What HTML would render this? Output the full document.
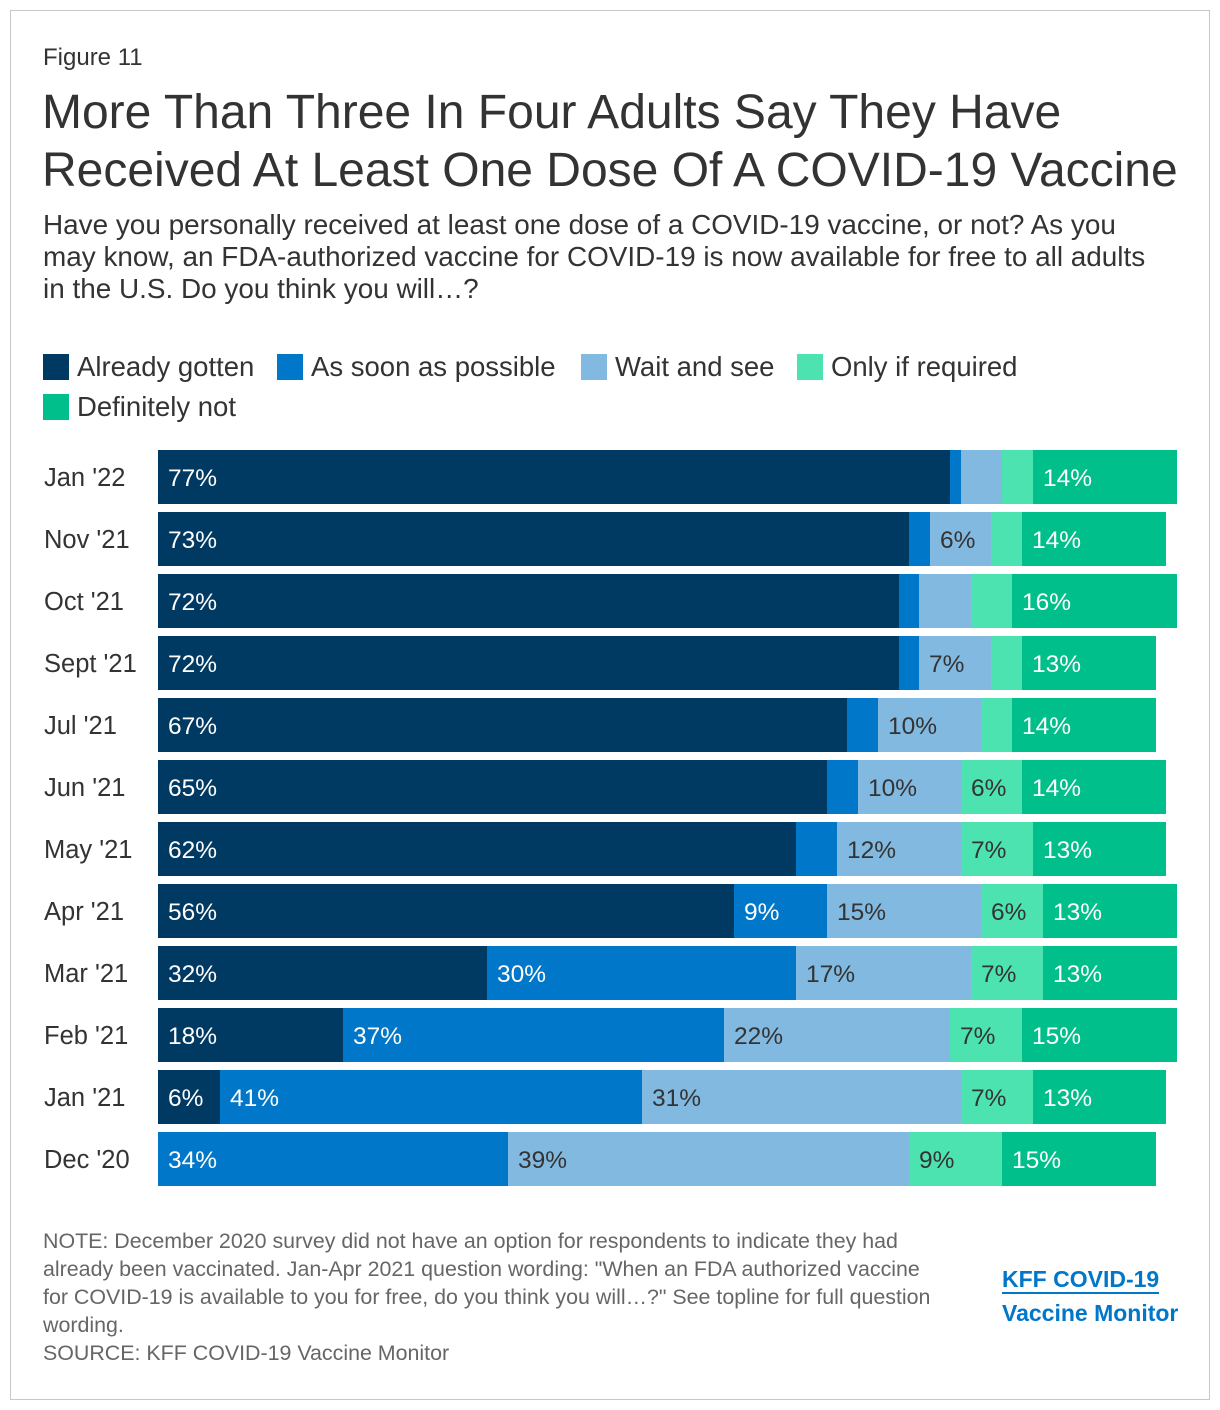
<!DOCTYPE html>
<html><head><meta charset="utf-8"><style>
body{margin:0;background:#fff;font-family:"Liberation Sans",sans-serif;}
#frame{position:absolute;left:10px;top:10px;width:1198px;height:1388px;border:1px solid #c8c8c8;}
.t{position:absolute;color:#333;white-space:nowrap;}
.leg{position:absolute;font-size:27.5px;color:#333;display:flex;align-items:center;}
.sw{display:inline-block;width:26px;height:26px;margin-right:8px;}
</style></head><body>
<div id="frame"></div>
<div class="t" style="left:43px;top:44px;font-size:24px;">Figure 11</div>
<div class="t" style="left:42px;top:84px;font-size:48px;line-height:58px;">More Than Three In Four Adults Say They Have<br>Received At Least One Dose Of A COVID-19 Vaccine</div>
<div class="t" style="left:43px;top:209px;font-size:27.9px;line-height:32px;">Have you personally received at least one dose of a COVID-19 vaccine, or not? As you<br>may know, an FDA-authorized vaccine for COVID-19 is now available for free to all adults<br>in the U.S. Do you think you will…?</div>
<div class="leg" style="left:43px;top:351px;"><span class="sw" style="background:#003a63"></span>Already gotten</div>
<div class="leg" style="left:277px;top:351px;"><span class="sw" style="background:#0077c8"></span>As soon as possible</div>
<div class="leg" style="left:581px;top:351px;"><span class="sw" style="background:#82b9e0"></span>Wait and see</div>
<div class="leg" style="left:797px;top:351px;"><span class="sw" style="background:#4de3b0"></span>Only if required</div>
<div class="leg" style="left:43px;top:391px;"><span class="sw" style="background:#00bf8a"></span>Definitely not</div>
<svg id="chart" width="1220" height="1410" style="position:absolute;left:0;top:0"></svg>
<div class="t" style="left:43px;top:1227px;font-size:21.4px;line-height:28px;color:#666;">NOTE: December 2020 survey did not have an option for respondents to indicate they had<br>already been vaccinated. Jan-Apr 2021 question wording: "When an FDA authorized vaccine<br>for COVID-19 is available to you for free, do you think you will…?" See topline for full question<br>wording.<br>SOURCE: KFF COVID-19 Vaccine Monitor</div>
<div class="t" style="left:1002px;top:1262px;font-size:23px;line-height:34px;font-weight:bold;color:#0077c8;"><span style="border-bottom:2px solid #0077c8">KFF COVID-19</span><br>Vaccine Monitor</div>
<script>
const categories=["Jan '22","Nov '21","Oct '21","Sept '21","Jul '21","Jun '21","May '21","Apr '21","Mar '21","Feb '21","Jan '21","Dec '20"];
const alreadyGotten=[77,73,72,72,67,65,62,56,32,18,6,0];
const asSoonAsPossible=[1,2,2,2,3,3,4,9,30,37,41,34];
const waitAndSee=[4,6,5,7,10,10,12,15,17,22,31,39];
const onlyIfRequired=[3,3,4,3,3,6,7,6,7,7,7,9];
const definitelyNot=[14,14,16,13,14,14,13,13,13,15,13,15];
const series=[alreadyGotten,asSoonAsPossible,waitAndSee,onlyIfRequired,definitelyNot];
const colors=["#003a63","#0077c8","#82b9e0","#4de3b0","#00bf8a"];
const textColors=["#fff","#fff","#333","#333","#fff"];
const names=["already-gotten","as-soon-as-possible","wait-and-see","only-if-required","definitely-not"];
const svg=document.getElementById('chart');
const NS="http://www.w3.org/2000/svg";
const x0=158,scale=10.29,y0=450,bh=54,pitch=62;
const xs=v=>x0+v*scale;
categories.forEach((c,i)=>{
  const y=y0+i*pitch;
  const lab=document.createElementNS(NS,'text');
  
  
  lab.setAttribute('x',44);lab.setAttribute('y',y+bh/2+9);
  lab.setAttribute('font-size','25.5');lab.setAttribute('fill','#333');
  lab.setAttribute('font-family','Liberation Sans, sans-serif');
  lab.textContent=c;svg.appendChild(lab);
  let cum=0;
  series.forEach((s,k)=>{
    const v=s[i];
    const a=Math.round(xs(cum)),b=Math.round(xs(cum+v));
    if(v>0){
      const r=document.createElementNS(NS,'rect');
      
      
      r.setAttribute('x',a);r.setAttribute('y',y);r.setAttribute('width',b-a);r.setAttribute('height',bh);
      r.setAttribute('fill',colors[k]);svg.appendChild(r);
      if(v>=6){
        const t=document.createElementNS(NS,'text');
        
        
        t.setAttribute('x',a+10);t.setAttribute('y',y+bh/2+9);
        t.setAttribute('font-size','24.5');t.setAttribute('fill',textColors[k]);
        t.setAttribute('font-family','Liberation Sans, sans-serif');
        t.textContent=v+'%';svg.appendChild(t);
      }
    }
    cum+=v;
  });
});
</script>
</body></html>
